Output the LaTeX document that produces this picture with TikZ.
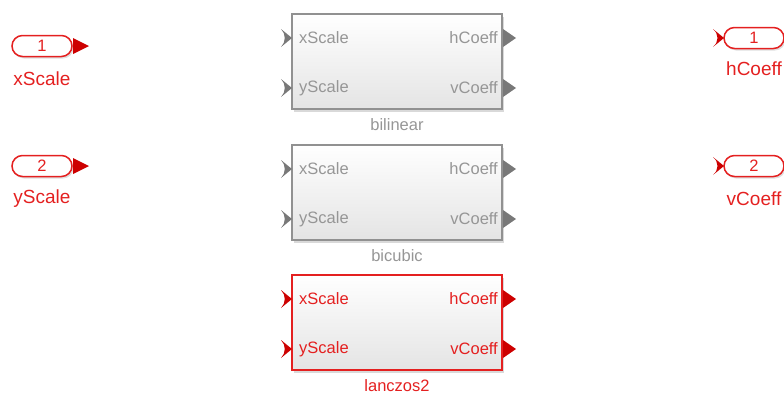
\documentclass[tikz,border=0pt]{standalone}
\usepackage{fontspec}
\setmainfont{Liberation Sans}
\usetikzlibrary{shadows, shapes.misc}
\definecolor{simred}{RGB}{228, 32, 32}
\definecolor{simdark}{RGB}{205, 0, 0}
\definecolor{offtext}{RGB}{150, 150, 150}
\definecolor{offframe}{RGB}{145, 145, 145}
\definecolor{offport}{RGB}{120, 120, 120}
\definecolor{blockbot}{RGB}{228, 228, 228}

\begin{document}
\begin{tikzpicture}[
  x=1pt, y=-1pt,
  every node/.style={inner sep=0pt},
  portio/.style={draw=simred, line width=1.5pt, fill=white, rounded rectangle, minimum width=60pt, minimum height=21pt,
    text=simred, font=\fontsize{16.5}{18}\selectfont, drop shadow={shadow xshift=1.5pt, shadow yshift=-2pt, opacity=0.25}},
  portlab/.style={text=simred, font=\fontsize{19}{21}\selectfont},
  block/.style={line width=1.2pt, top color=white, bottom color=blockbot, minimum width=210pt, minimum height=95pt,
    drop shadow={shadow xshift=2pt, shadow yshift=-2.5pt, opacity=0.3}},
  blocktext/.style={font=\fontsize{16.5}{18}\selectfont}
]
\useasboundingbox (0,0) rectangle (784,394);
% inports
\node[portio] (in1) at (42,46) {1};
\node[portlab] (in1-lab) at (42,79) {xScale};
\fill[simdark] (73,38) -- (89,46) -- (73,54) -- cycle;
\node[portio] (in2) at (42,166) {2};
\node[portlab] (in2-lab) at (42,199) {yScale};
\fill[simdark] (73,158) -- (89,166) -- (73,174) -- cycle;
% outports
\node[portio] (out1) at (754,38) {1};
\node[portlab] (out1-lab) at (754,69) {hCoeff};
\fill[simdark] (713,29) .. controls (719,34) and (719,42) .. (713,47) -- (724,38) -- cycle;
\node[portio] (out2) at (754,166) {2};
\node[portlab] (out2-lab) at (754,199) {vCoeff};
\fill[simdark] (713,157) .. controls (719,162) and (719,170) .. (713,175) -- (724,166) -- cycle;
% subsystems
\foreach \blk/\yt/\tcol/\fcol/\pcol/\lw in {bilinear/14/offtext/offframe/offport/1.2pt, bicubic/145/offtext/offframe/offport/1.2pt, lanczos2/275/simred/simred/simdark/1.5pt} {
  \node[block, draw=\fcol, line width=\lw] (\blk) at (397,\yt+47.5) {};
  \node[blocktext, text=\tcol, anchor=west] (\blk-xs) at (299,\yt+24) {xScale};
  \node[blocktext, text=\tcol, anchor=west] (\blk-ys) at (299,\yt+74) {yScale};
  \node[blocktext, text=\tcol, anchor=east] (\blk-hc) at (498,\yt+24) {hCoeff};
  \node[blocktext, text=\tcol, anchor=east] (\blk-vc) at (498,\yt+74) {vCoeff};
  \node[blocktext, text=\tcol] (\blk-name) at (397,\yt+111) {\blk};
  \foreach \py in {24, 74} {
    \fill[\pcol] (281,\yt+\py-9) .. controls (286,\yt+\py-4) and (286,\yt+\py+4) .. (281,\yt+\py+9) -- (292,\yt+\py) -- cycle;
    \fill[\pcol] (503,\yt+\py-9) -- (516,\yt+\py) -- (503,\yt+\py+9) -- cycle;
  }
}
\end{tikzpicture}
\end{document}
